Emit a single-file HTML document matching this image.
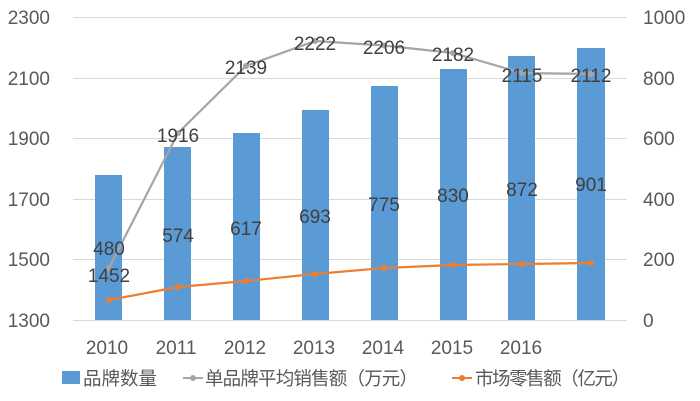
<!DOCTYPE html>
<html><head><meta charset="utf-8"><style>
html,body{margin:0;padding:0;background:#fff;}
svg{display:block;font-family:"Liberation Sans","Noto Sans CJK SC",sans-serif;}
</style></head><body>
<svg width="700" height="401" viewBox="0 0 700 401">
<g stroke="#d9d9d9" stroke-width="1">
<line x1="73" y1="17.5" x2="627" y2="17.5"/>
<line x1="73" y1="78.5" x2="627" y2="78.5"/>
<line x1="73" y1="138.5" x2="627" y2="138.5"/>
<line x1="73" y1="199.5" x2="627" y2="199.5"/>
<line x1="73" y1="259.5" x2="627" y2="259.5"/>
<line x1="73" y1="320.5" x2="627" y2="320.5"/>
</g>
<g fill="#5b9bd5">
<rect x="95" y="175" width="27" height="145"/>
<rect x="164" y="147" width="27" height="173"/>
<rect x="233" y="133" width="27" height="187"/>
<rect x="302" y="110" width="27" height="210"/>
<rect x="371" y="86" width="27" height="234"/>
<rect x="440" y="69" width="27" height="251"/>
<rect x="508" y="56" width="27" height="264"/>
<rect x="577" y="48" width="28" height="272"/>
</g>
<polyline fill="none" stroke="#a5a5a5" stroke-width="2.2" points="109,268 178,133 246,66 315,41 384,45.5 453,53 522,73 591,74"/>
<g fill="#a5a5a5"><circle cx="109" cy="268" r="3"/><circle cx="178" cy="133" r="3"/><circle cx="246" cy="66" r="3"/><circle cx="315" cy="41" r="3"/><circle cx="384" cy="45.5" r="3"/><circle cx="453" cy="53" r="3"/><circle cx="522" cy="73" r="3"/><circle cx="591" cy="74" r="3"/></g>
<polyline fill="none" stroke="#ed7d31" stroke-width="2.2" points="109,300 178,287 246,281 315,274 384,268 453,265 522,264 591,263"/>
<g fill="#ed7d31"><circle cx="109" cy="300" r="3"/><circle cx="178" cy="287" r="3"/><circle cx="246" cy="281" r="3"/><circle cx="315" cy="274" r="3"/><circle cx="384" cy="268" r="3"/><circle cx="453" cy="265" r="3"/><circle cx="522" cy="264" r="3"/><circle cx="591" cy="263" r="3"/></g>
<g fill="#404040" font-size="19" text-anchor="middle">
<text x="109" y="255">480</text><text x="109" y="282">1452</text>
<text x="178" y="142">1916</text><text x="178" y="242">574</text>
<text x="246" y="74">2139</text><text x="246" y="235">617</text>
<text x="315" y="50">2222</text><text x="315" y="223">693</text>
<text x="384" y="54">2206</text><text x="384" y="211">775</text>
<text x="453" y="61">2182</text><text x="453" y="202">830</text>
<text x="522" y="82">2115</text><text x="522" y="196">872</text>
<text x="591" y="82">2112</text><text x="591" y="191">901</text>
</g>
<g fill="#595959" font-size="19" text-anchor="end">
<text x="50" y="24">2300</text><text x="50" y="85">2100</text><text x="50" y="145">1900</text>
<text x="50" y="206">1700</text><text x="50" y="266">1500</text><text x="50" y="327">1300</text>
</g>
<g fill="#595959" font-size="19" text-anchor="start">
<text x="643" y="24">1000</text><text x="643" y="85">800</text><text x="643" y="145">600</text>
<text x="643" y="206">400</text><text x="643" y="266">200</text><text x="643" y="327">0</text>
</g>
<g fill="#595959" font-size="19" text-anchor="middle">
<text x="107" y="354">2010</text><text x="176" y="354">2011</text><text x="245" y="354">2012</text>
<text x="314" y="354">2013</text><text x="383" y="354">2014</text><text x="452" y="354">2015</text><text x="521" y="354">2016</text>
</g>
<g font-size="18.5" fill="#595959">
<rect x="62" y="371" width="18" height="13" fill="#5b9bd5"/>
<text x="83" y="385">品牌数量</text>
<line x1="183" y1="378" x2="203" y2="378" stroke="#a5a5a5" stroke-width="2"/><circle cx="193" cy="378" r="3" fill="#a5a5a5"/>
<text x="205" y="385" textLength="213">单品牌平均销售额（万元）</text>
<line x1="452" y1="378" x2="472" y2="378" stroke="#ed7d31" stroke-width="2"/><circle cx="462" cy="378" r="3" fill="#ed7d31"/>
<text x="475" y="385" textLength="155">市场零售额（亿元）</text>
</g>
</svg>
</body></html>
